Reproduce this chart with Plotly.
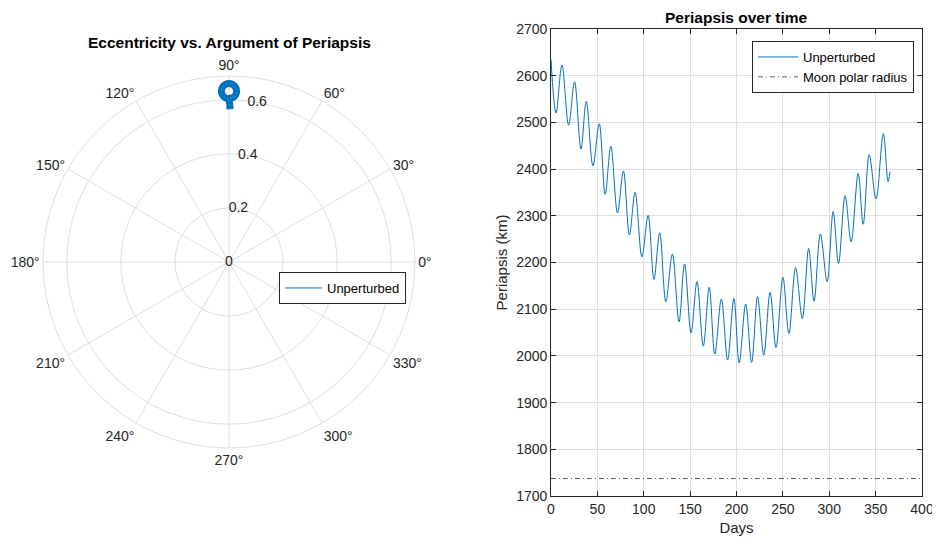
import plotly.graph_objects as go

# ---------------- data ----------------
# Right panel: periapsis over time (turning points of the oscillation)
days = [0, 5.4, 11.8, 19, 25.4, 32.3, 38, 45.2, 52, 58.4, 64.5, 71.7, 78.1, 84.5,
        90.7, 98, 104.7, 111, 117.2, 123.8, 130.9, 138, 144, 151, 157.4, 164.2,
        170.6, 176.6, 183.7, 190.4, 197.2, 202.9, 209.9, 216.3, 222.7, 229.4,
        236.2, 242.6, 250, 256.5, 263.7, 271, 277.8, 283.6, 290.4, 297.7, 304.2,
        310, 317.1, 323.6, 331.2, 336.6, 343.1, 350.4, 358.3, 363.4, 365.5]
periapsis_km = [2635, 2520, 2623, 2494, 2587, 2443, 2545, 2407, 2497, 2346, 2449,
                2306, 2396, 2259, 2350, 2212, 2301, 2164, 2264, 2116, 2218, 2073,
                2197, 2049, 2159, 2021, 2147, 2004, 2122, 1991, 2123, 1985, 2111,
                1986, 2127, 2002, 2136, 2018, 2168, 2048, 2189, 2080, 2230, 2117,
                2261, 2159, 2309, 2198, 2343, 2244, 2391, 2282, 2431, 2336, 2476,
                2373, 2394]
moon_days = [0, 400]
moon_radius_km = [1737.4, 1737.4]

# Left panel: eccentricity vs argument of periapsis (traced loop)
omega_deg = [89.6, 89.75, 90.0, 88.7, 87.75, 87.45, 87.85, 88.8, 90.0, 91.2,
             92.15, 92.55, 92.25, 91.3, 90.3]
ecc = [0.565, 0.586, 0.604, 0.608, 0.6185, 0.6326, 0.6465, 0.6564, 0.660,
       0.6564, 0.6465, 0.6326, 0.6185, 0.608, 0.6045]

x_ticks = [0, 50, 100, 150, 200, 250, 300, 350, 400]
y_ticks = [1700, 1800, 1900, 2000, 2100, 2200, 2300, 2400, 2500, 2600, 2700]
r_ticks = [0, 0.2, 0.4, 0.6]
r_tick_text = ['0', '0.2', '0.4', '0.6']
r_label_angle = [80, 80, 80, 80]

# ---------------- styles / geometry ----------------
BLUE = '#0072BD'
GRID = '#dfdfdf'
AX = '#262626'
FONT = 'Liberation Sans, Arial, Helvetica, sans-serif'

W, H, OFF = 932, 528, 8   # page body margin of 8px around the figure


def fx(px):
    return (px - OFF) / W


def fy(py):
    return (H - (py - OFF)) / H


fig = go.Figure()

# radial tick labels, centred on the 80 degree direction (MATLAB style)
fig.add_trace(go.Scatterpolar(
    r=r_ticks, theta=r_label_angle, mode='text', text=r_tick_text,
    textposition='middle center',
    textfont=dict(family=FONT, size=14, color=AX),
    showlegend=False, hoverinfo='skip'))

fig.add_trace(go.Scatterpolar(
    theta=omega_deg, r=ecc, mode='lines',
    line=dict(color=BLUE, width=7, shape='spline'),
    showlegend=False, hoverinfo='skip'))
fig.add_trace(go.Scatterpolar(
    theta=omega_deg, r=ecc, mode='lines',
    line=dict(color='rgba(255,255,255,0.35)', width=1, dash='1px,3px', shape='spline'),
    showlegend=False, hoverinfo='skip'))
fig.add_trace(go.Scatterpolar(
    theta=[omega_deg[0]], r=[ecc[0]], mode='lines',
    line=dict(color=BLUE, width=1),
    name='Unperturbed', legend='legend'))

fig.add_trace(go.Scatter(
    x=days, y=periapsis_km, mode='lines',
    line=dict(color=BLUE, width=1, shape='spline'),
    name='Unperturbed', legend='legend2'))
fig.add_trace(go.Scatter(
    x=moon_days, y=moon_radius_km, mode='lines',
    line=dict(color='#333333', width=0.8, dash='5px,3px,1px,3px'),
    name='Moon polar radius', legend='legend2'))

axis_common = dict(
    showline=True, linecolor=AX, linewidth=0.8, mirror='ticks',
    ticks='inside', ticklen=5, tickwidth=0.8, tickcolor=AX,
    showgrid=True, gridcolor=GRID, gridwidth=1, zeroline=False,
    tickfont=dict(family=FONT, size=14, color=AX), automargin=False,
    ticklabeloverflow='allow')

CX, CY, R = 229, 262, 186

fig.update_layout(
    width=W, height=H,
    margin=dict(l=0, r=0, t=0, b=0),
    paper_bgcolor='white', plot_bgcolor='white',
    font=dict(family=FONT, size=14, color=AX),
    polar=dict(
        domain=dict(x=[fx(CX - R), fx(CX + R)], y=[fy(CY + R), fy(CY - R)]),
        bgcolor='white',
        angularaxis=dict(rotation=0, direction='counterclockwise',
                         tickmode='linear', dtick=30,
                         showline=True, linecolor=GRID, linewidth=1,
                         gridcolor=GRID, ticks='',
                         tickfont=dict(family=FONT, size=14, color=AX)),
        radialaxis=dict(range=[0, 0.688], tickvals=r_ticks, angle=80,
                        showticklabels=False, showline=False, gridcolor=GRID,
                        ticks=''),
    ),
    xaxis=dict(domain=[fx(551), fx(922)], range=[0, 400], tickvals=x_ticks,
               title=dict(text='Days', font=dict(family=FONT, size=15, color=AX), standoff=6),
               **axis_common),
    yaxis=dict(domain=[fy(496), fy(29)], range=[1700, 2700], tickvals=y_ticks,
               title=dict(text='Periapsis (km)', font=dict(family=FONT, size=15, color=AX), standoff=4),
               **axis_common),
    legend=dict(x=fx(279), y=fy(272), xanchor='left', yanchor='top',
                bgcolor='white', bordercolor=AX, borderwidth=1,
                font=dict(family=FONT, size=13, color='#000'),
                tracegroupgap=0, itemwidth=37),
    legend2=dict(x=fx(752), y=fy(41), xanchor='left', yanchor='top',
                 bgcolor='white', bordercolor=AX, borderwidth=1,
                 font=dict(family=FONT, size=13, color='#000'),
                 tracegroupgap=0, itemwidth=40),
    annotations=[
        dict(text='<b>Eccentricity vs. Argument of Periapsis</b>', x=fx(229),
             y=fy(42), xref='paper', yref='paper', showarrow=False,
             font=dict(family=FONT, size=15.5, color='#000'), xanchor='center', yanchor='middle'),
        dict(text='<b>Periapsis over time</b>', x=fx(736),
             y=fy(17), xref='paper', yref='paper', showarrow=False,
             font=dict(family=FONT, size=15.5, color='#000'), xanchor='center', yanchor='middle'),
    ],
)

fig.write_html('out.html')
